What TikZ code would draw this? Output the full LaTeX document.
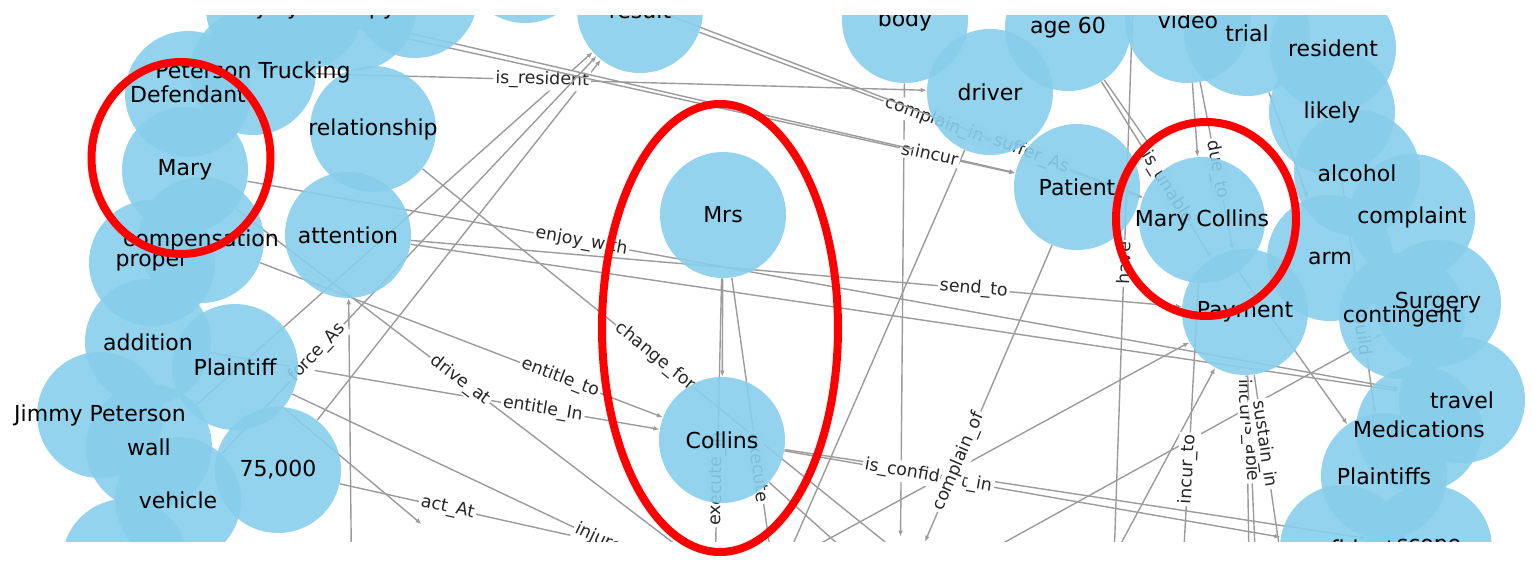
\documentclass[tikz,border=0pt]{standalone}
\usepackage{fontspec}
\setmainfont{DejaVu Sans}
\usetikzlibrary{arrows.meta}
\definecolor{skyblue}{RGB}{135,206,235}
\definecolor{edgegray}{RGB}{155,155,155}
\pgfdeclarelayer{edges}
\pgfsetlayers{edges,main}

% name/x/y/text, pixel positions
\newcommand{\vertlist}{inj/269/8/injury, k12/300/8/{12,000}, ther/353/8/therapy,
  dam/415/-5/{}, pain/525/-40/{}, res/640/10/result,
  body/905/20/body, age/1068/28/age 60, drv/990/92/driver, vid/1188/20/video,
  trial/1247/33/trial, resid/1333/48/resident,
  pt/253/72/Peterson Trucking, def/188/94/Defendant, mary/185/170/Mary,
  rel/373/129/relationship, att/348/235/attention, comp/201/240/compensation,
  prop/152/263/proper, add/148/342/addition, plf/235/367/Plaintiff,
  jp/100/415/Jimmy Peterson, wall/149/447/wall, k75/278/470/{75,000},
  veh/178/500/vehicle, acc/125/562/{},
  mrs/723/215/Mrs, col/722/440/Collins,
  pat/1077/187/Patient, mc/1202/220/Mary Collins, lik/1332/112/likely,
  alc/1357/173/alcohol, cmpl/1412/217/complaint, arm/1330/258/arm,
  pay/1245/312/Payment, surg/1438/303/Surgery, cont/1402/316/contingent,
  trav/1462/400/travel, med/1419/429/Medications, plfs/1384/476/Plaintiffs,
  conf/1343/548/confident, scope/1429/548/scope}

\begin{document}
\begin{tikzpicture}[x=0.5pt, y=-0.5pt, >={Latex[length=3pt,width=2.4pt]},
    vert/.style={circle, fill=skyblue, fill opacity=0.9, minimum size=63pt, inner sep=0pt},
    hidden/.style={circle, minimum size=63pt, inner sep=0pt},
    vtext/.style={font=\fontsize{11}{13}\selectfont, text=black, inner sep=0pt},
    edge/.style={->, draw=edgegray, line width=0.7pt},
    elabel/.style={font=\fontsize{8.7}{10}\selectfont, text=black!85, fill=white, inner sep=1pt, sloped},
    ring/.style={draw=red, line width=4pt}]

\useasboundingbox (0,0) rectangle (1538,561);

\begin{scope}
\clip (0,16) rectangle (1538,541);
\foreach \nm/\x/\y/\txt in \vertlist
  \node[vert] (\nm) at (\x,\y) {};
\foreach \nm/\x/\y/\txt in \vertlist
  \node[vtext] at (\nm) {\txt};
\end{scope}

% ends that lie outside the frame
\node[hidden] (ht) at (1135,-60) {};
\node[hidden] (hb0) at (352,620) {};
\node[hidden] (hb1) at (1112,620) {};
\node[hidden] (hb2) at (1180,620) {};
\node[hidden] (hb3) at (1250,620) {};
\node[hidden] (hb4) at (1258,620) {};
\node[hidden] (hb5) at (1290,620) {};
\node[hidden] (bA) at (900,600) {};
\node[hidden] (bR) at (957,600) {};
\node[hidden] (b4) at (735,590) {};
\node[hidden] (hA) at (860,600) {};
\node[hidden] (hB) at (770,620) {};
\node[hidden] (hC) at (470,565) {};
\node[hidden] (hD) at (780,620) {};
\node[hidden] (hE) at (714,620) {};
\node[hidden] (hF) at (760,620) {};
\node[hidden] (hG) at (1080,620) {};

\begin{pgfonlayer}{edges}
\clip (0,16) rectangle (1538,541);
% plain edges
\draw[edge] (vid) -- (mc);
\draw[edge] (age) -- (mc);
\draw[edge] (trial) -- (arm);
\draw[edge] (mc) -- (pay);
\draw[edge] (mc) -- (plfs);
\draw[edge] (bA) -- (surg);
\draw[edge] (b4) -- (pay);
\draw[edge] (hG) -- (pay);
\draw[edge] (att) -- (trav);
\draw[edge] (wall) -- (res);
\draw[edge] (k75) -- (res);
\draw[edge] (plf) -- (hC);
\draw[edge] (hb0) -- (att);
\draw[edge] (att) -- (rel);
\draw[edge] (mrs) -- (col);
\draw[edge] (col) -- (bA);
\draw[edge] (col) -- (scope);
\draw[edge] (body) -- (bA);
\draw[edge] (drv) -- (hF);
% labelled edges
\draw[edge] (pt) -- node[elabel, pos=.37] {is\_resident} (drv);
\draw[edge] (inj) -- node[elabel, pos=.87] {suffer} (pat);
\draw[edge] (k12) -- node[elabel, pos=.88] {incur} (pat);
\draw[edge] (res) -- node[elabel, pos=.53] {complain\_in} (mc);
\draw[edge] (pain) -- node[elabel, pos=.8] {suffer\_As} (mc);
\draw[edge] (age) -- node[elabel, pos=.6] {is\_unable} (pay);
\draw[edge] (vid) -- node[elabel, pos=.52] {due\_to} (pay);
\draw[edge] (ht) -- node[elabel, pos=.47] {have} (hb1);
\draw[edge] (mc) -- node[elabel, pos=.68] {incur\_to} (hb2);
\draw[edge] (pay) -- node[elabel, pos=.14] {incur} (hb3);
\draw[edge] (pay) -- node[elabel, pos=.42] {is\_able} (hb4);
\draw[edge] (pay) -- node[elabel, pos=.38] {sustain\_in} (hb5);
\draw[edge] (lik) -- node[elabel, pos=.67] {build} (plfs);
\draw[edge] (mary) -- node[elabel, pos=.29] {enjoy\_with} (trav);
\draw[edge] (att) -- node[elabel, pos=.73] {send\_to} (pay);
\draw[edge] (rel) -- node[elabel, pos=.48] {change\_for} (bR);
\draw[edge] (comp) -- node[elabel, pos=.745] {entitle\_to} (col);
\draw[edge] (add) -- node[elabel, pos=.74] {entitle\_In} (col);
\draw[edge] (mary) -- node[elabel, pos=.5] {drive\_at} (b4);
\draw[edge] (veh) -- node[elabel, pos=.255] {force\_As} (res);
\draw[edge] (k75) -- node[elabel, pos=.235] {act\_At} (hA);
\draw[edge] (plf) -- node[elabel, pos=.76] {injure\_by} (hB);
\draw[edge] (mrs) -- node[elabel, pos=.68] {execute} (hD);
\draw[edge] (mrs) -- node[elabel, pos=.72] {execute\_in} (hE);
\draw[edge] (col) -- node[elabel, pos=.29] {is\_confident\_in} (conf);
\draw[edge] (pat) -- node[elabel, pos=.73] {complain\_of} (bA);
\end{pgfonlayer}

% highlighted entities
\draw[ring] (181,158) ellipse [x radius=44.75pt, y radius=48pt];
\draw[ring] (720,328) ellipse [x radius=59pt, y radius=112pt];
\draw[ring] (1206,219) ellipse [x radius=45pt, y radius=48.5pt];
\end{tikzpicture}
\end{document}
